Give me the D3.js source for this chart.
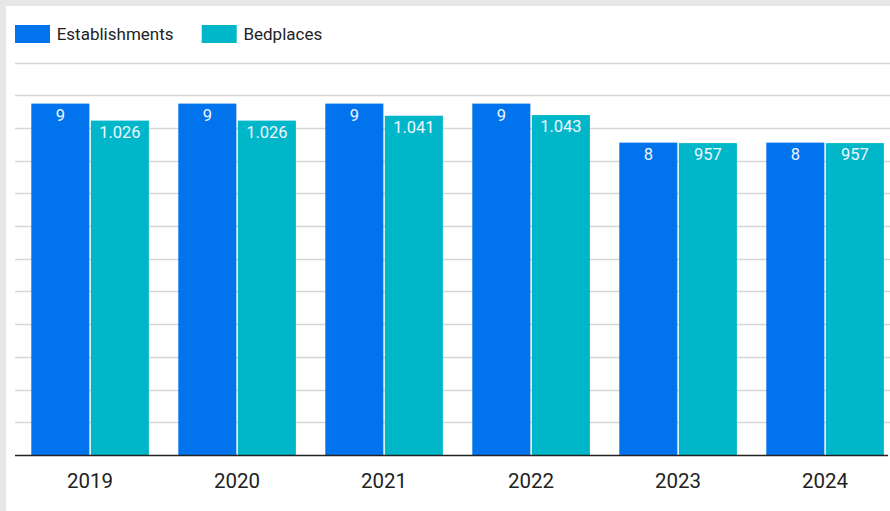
<!DOCTYPE html>
<html>
<head>
<meta charset="utf-8">
<script src="https://cdn.jsdelivr.net/npm/d3@7"></script>
<style>
html,body{margin:0;padding:0;background:#e6e6e6;}
svg{display:block;font-family:Roboto,"Noto Sans",sans-serif;}
</style>
</head>
<body>
<svg id="chart" width="890" height="511"></svg>
<script>
const years = ["2019","2020","2021","2022","2023","2024"];
const establishments = [9, 9, 9, 9, 8, 8];
const bedplaces = [1026, 1026, 1041, 1043, 957, 957];
const seriesNames = ["Establishments", "Bedplaces"];
const seriesColors = ["#0073ed", "#00b6c9"];
const gridValues = [100,200,300,400,500,600,700,800,900,1000,1100,1200];

const svg = d3.select("#chart");
const W = 890, H = 511;
svg.append("rect").attr("x",6).attr("y",6).attr("width",W-6).attr("height",H-6).attr("fill","#fff");

const baseY = 455, topY = 62.6;
const x0 = d3.scaleBand().domain(years).range([16.6, 898.6]).paddingInner(0.2).paddingOuter(0.1);
const x1 = d3.scaleBand().domain([0,1]).range([0, x0.bandwidth()]).paddingInner(0.025);
const yE = d3.scaleLinear().domain([0,10.05]).range([baseY, topY]);
const yB = d3.scaleLinear().domain([0,1204]).range([baseY, topY]);
const yG = d3.scaleLinear().domain([0,1200]).range([baseY, topY]);
const loc = d3.formatLocale({decimal:",", thousands:".", grouping:[3], currency:["","€"]});
const fmt = loc.format(",d");

// gridlines
svg.append("g").selectAll("line").data(gridValues).join("line")
  .attr("x1",15).attr("x2",W)
  .attr("y1",d=>Math.round(yG(d))+0.5).attr("y2",d=>Math.round(yG(d))+0.5)
  .attr("stroke","#d6d6d6").attr("stroke-width",1.3);

const data = years.map((y,i)=>({year:y, vals:[
  {s:0, v:establishments[i], y:yE(establishments[i])},
  {s:1, v:bedplaces[i], y:yB(bedplaces[i])}
]}));

const g = svg.append("g").selectAll("g").data(data).join("g")
  .attr("transform",d=>`translate(${x0(d.year)},0)`);
g.selectAll("rect").data(d=>d.vals).join("rect")
  .attr("x",d=>x1(d.s)).attr("width",x1.bandwidth())
  .attr("y",d=>d.y).attr("height",d=>baseY-d.y)
  .attr("fill",d=>seriesColors[d.s]);
g.selectAll("text").data(d=>d.vals).join("text")
  .attr("x",d=>x1(d.s)+x1.bandwidth()/2).attr("y",d=>d.y+17.2)
  .attr("text-anchor","middle").attr("fill","#f2f6ff").attr("font-size",16.5)
  .text(d=>fmt(d.v));

// baseline
svg.append("line").attr("x1",15).attr("x2",888).attr("y1",baseY+0.5).attr("y2",baseY+0.5)
  .attr("stroke","#222").attr("stroke-width",1.3);

// x axis labels
const xAxis = d3.axisBottom(x0).tickSize(0).tickPadding(0);
const ax = svg.append("g").attr("transform",`translate(0,${baseY})`).call(xAxis);
ax.select(".domain").remove();
ax.selectAll("text").attr("dy",0).attr("y",32.5).attr("font-size",20.5)
  .attr("font-family","Roboto, sans-serif").attr("fill","#222");

// legend
const legX = [15, 201.7];
const leg = svg.append("g").selectAll("g").data(seriesNames).join("g")
  .attr("transform",(d,i)=>`translate(${legX[i]},25)`);
leg.append("rect").attr("width",35).attr("height",18).attr("fill",(d,i)=>seriesColors[i]);
leg.append("text").attr("x",41.7).attr("y",14.8).attr("font-size",17).attr("fill","#222").text(d=>d);
</script>
</body>
</html>
